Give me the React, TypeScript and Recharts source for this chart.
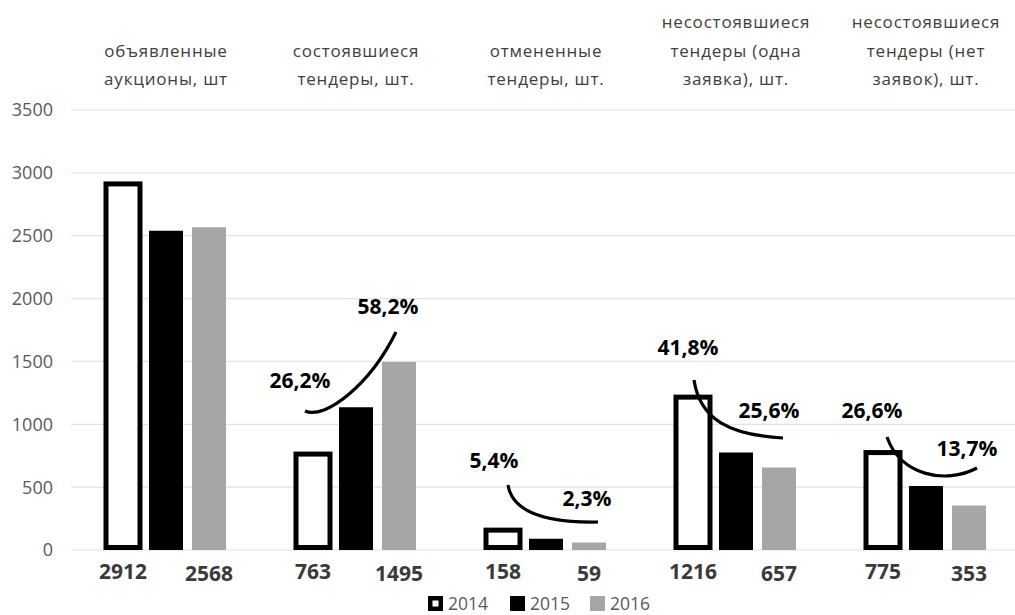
import React from 'react';
import { BarChart, Bar, XAxis, YAxis, CartesianGrid, LabelList } from 'recharts';

// ---- data ----
const categories = [
  'объявленные\nаукционы, шт',
  'состоявшиеся\nтендеры, шт.',
  'отмененные\nтендеры, шт.',
  'несостоявшиеся\nтендеры (одна\nзаявка), шт.',
  'несостоявшиеся\nтендеры (нет\nзаявок), шт.',
];
const values2014 = [2912, 763, 158, 1216, 775];
const values2015 = [2540, 1135, 90, 775, 510];
const values2016 = [2568, 1495, 59, 657, 353];
const yTicks = [0, 500, 1000, 1500, 2000, 2500, 3000, 3500];
const seriesNames = ['2014', '2015', '2016'];

const data = categories.map((name, i) => ({
  name,
  y2014: values2014[i],
  y2015: values2015[i],
  y2016: values2016[i],
}));

const pct = (v: number, base: number) => ((v / base) * 100).toFixed(1).replace('.', ',') + '%';

// ---- annotation layout (pixel offsets from group centre / baseline) ----
const ARC_LAYOUT: Record<number, { arc: number[][]; l1: number[]; l2: number[] }> = {
  1: { arc: [[-51, -139], [-31, -130], [14, -165], [40, -218]], l1: [-56, -170], l2: [32, -244] },
  2: { arc: [[-38, -65], [-34, -40], [-6, -27], [52, -28]], l1: [-52, -90], l2: [41, -52] },
  3: { arc: [[-42, -170], [-36, -130], [-6, -115], [47, -112]], l1: [-48, -203], l2: [33, -140] },
  4: { arc: [[-39, -113], [-26, -75], [19, -65], [51, -82]], l1: [-54, -140], l2: [41, -102] },
};

const FONT = '"Open Sans", "DejaVu Sans", sans-serif';

const getBox = (p: any) => {
  const vb = p.viewBox || {};
  return {
    x: Number(vb.x ?? p.x),
    y: Number(vb.y ?? p.y),
    width: Number(vb.width ?? p.width),
    height: Number(vb.height ?? p.height),
  };
};

const makeValueLabel = (dy: number) => (p: any) => {
  const { x, y, width, height } = getBox(p);
  return (
    <text
      x={x + width / 2}
      y={y + height + dy}
      textAnchor="middle"
      fontSize={21}
      fontWeight={700}
      fill="#3a3a3a"
      fontFamily={FONT}
    >
      {p.value}
    </text>
  );
};

const ShareAnnotation = (p: any) => {
  const idx = Number(p.index);
  const lay = ARC_LAYOUT[idx];
  if (!lay) return null;
  const { x, y, width, height } = getBox(p);
  const cx = x + width / 2;
  const base = y + height;
  const pt = (q: number[]) => `${cx + q[0]},${base + q[1]}`;
  const d = `M${pt(lay.arc[0])} C${pt(lay.arc[1])} ${pt(lay.arc[2])} ${pt(lay.arc[3])}`;
  const t1 = pct(values2014[idx], values2014[0]);
  const t2 = pct(values2016[idx], values2016[0]);
  const txt = (pos: number[], s: string) => (
    <text
      x={cx + pos[0]}
      y={base + pos[1]}
      dy="0.36em"
      textAnchor="middle"
      fontSize={21}
      fontWeight={700}
      fill="#000"
      fontFamily={FONT}
    >
      {s}
    </text>
  );
  return (
    <g>
      <path d={d} fill="none" stroke="#000" strokeWidth={3.2} strokeLinecap="butt" />
      {txt(lay.l1, t1)}
      {txt(lay.l2, t2)}
    </g>
  );
};

const CategoryTick = (props: any) => {
  const { x, y, payload } = props;
  const lines = String(payload.value).split('\n');
  const n = lines.length;
  return (
    <g>
      {lines.map((l, i) => (
        <text
          key={i}
          x={x}
          y={y - 25 - (n - 1 - i) * 28.5}
          textAnchor="middle"
          fontSize={17}
          letterSpacing={0.8}
          fill="#404040"
          fontFamily={FONT}
        >
          {l}
        </text>
      ))}
    </g>
  );
};

const OutlinedBar = (p: any) => {
  const { x, y, width, height } = p;
  if (!(height > 0)) return null;
  const sw = 5;
  return (
    <rect
      x={x}
      y={y}
      width={width}
      height={Math.max(0, height - sw / 2)}
      fill="#fff"
      stroke="#000"
      strokeWidth={sw}
    />
  );
};

const LegendBox = () => {
  const items = [
    { name: seriesNames[0], left: 428, kind: 'outline', color: '#000' },
    { name: seriesNames[1], left: 510, kind: 'solid', color: '#000' },
    { name: seriesNames[2], left: 590, kind: 'solid', color: '#a6a6a6' },
  ];
  return (
    <div style={{ position: 'absolute', left: 0, top: 594, width: 1015, height: 18, fontFamily: FONT }}>
      {items.map((it) => (
        <div
          key={it.name}
          style={{ position: 'absolute', left: it.left, top: 0, display: 'flex', alignItems: 'center', height: 18 }}
        >
          <svg width={15} height={15} style={{ display: 'block' }}>
            {it.kind === 'outline' ? (
              <rect x={2.25} y={2.25} width={10.5} height={10.5} fill="#fff" stroke="#000" strokeWidth={4.5} />
            ) : (
              <rect x={0} y={0} width={15} height={15} fill={it.color} />
            )}
          </svg>
          <span style={{ marginLeft: 5, fontSize: 17.5, color: '#595959', lineHeight: '18px' }}>{it.name}</span>
        </div>
      ))}
    </div>
  );
};

export default function App() {
  return (
    <div
      style={{
        position: 'absolute',
        left: 0,
        top: 0,
        width: 1015,
        height: 615,
        overflow: 'hidden',
        background: '#fff',
        fontFamily: FONT,
      }}
    >
      <BarChart
        width={1022}
        height={615}
        data={data}
        margin={{ top: 0, right: 1, bottom: 65, left: 0 }}
        barSize={34}
        barGap={9}
      >
        <CartesianGrid vertical={false} stroke="#e2e2e2" strokeWidth={1.2} />
        <XAxis
          dataKey="name"
          orientation="top"
          height={110}
          axisLine={false}
          tickLine={false}
          tickSize={0}
          tickMargin={0}
          interval={0}
          tick={<CategoryTick />}
        />
        <YAxis
          width={71}
          domain={[0, 3500]}
          ticks={yTicks}
          axisLine={false}
          tickLine={false}
          tickMargin={12}
          tick={{ fill: '#595959', fontSize: 18, fontFamily: FONT }}
        />
        <Bar dataKey="y2014" name={seriesNames[0]} isAnimationActive={false} shape={<OutlinedBar />}>
          <LabelList dataKey="y2014" content={makeValueLabel(28.5)} />
        </Bar>
        <Bar dataKey="y2015" name={seriesNames[1]} fill="#000" isAnimationActive={false}>
          <LabelList dataKey="y2015" content={ShareAnnotation} />
        </Bar>
        <Bar dataKey="y2016" name={seriesNames[2]} fill="#a6a6a6" isAnimationActive={false}>
          <LabelList dataKey="y2016" content={makeValueLabel(30.5)} />
        </Bar>
      </BarChart>
      <LegendBox />
    </div>
  );
}
